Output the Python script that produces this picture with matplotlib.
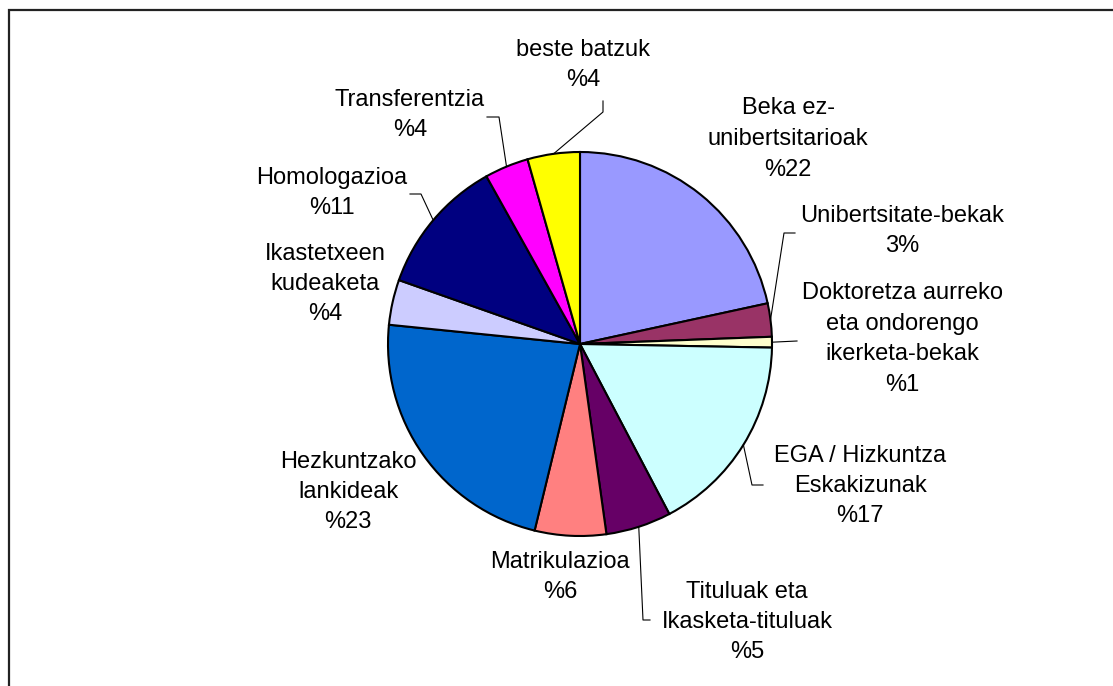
import numpy as np
import matplotlib.pyplot as plt
from matplotlib.patches import Rectangle

plt.rcParams['font.family'] = ['Liberation Sans', 'DejaVu Sans']

W, H = 1113, 686

# Data (clockwise from 12 o'clock), shares read from the slice boundaries
labels = ["Beka ez-\nunibertsitarioak\n%22",
          "Unibertsitate-bekak\n3%",
          "Doktoretza aurreko\neta ondorengo\nikerketa-bekak\n%1",
          "EGA / Hizkuntza\nEskakizunak\n%17",
          "Tituluak eta\nIkasketa-tituluak\n%5",
          "Matrikulazioa\n%6",
          "Hezkuntzako\nlankideak\n%23",
          "Ikastetxeen\nkudeaketa\n%4",
          "Homologazioa\n%11",
          "Transferentzia\n%4",
          "beste batzuk\n%4"]
values = [21.6, 2.8, 0.9, 17.0, 5.5, 6.0, 22.8, 3.8, 11.5, 3.7, 4.4]
colors = ["#9999FF", "#993366", "#FFFFCC", "#CCFFFF", "#660066", "#FF8080",
          "#0066CC", "#CCCCFF", "#000080", "#FF00FF", "#FFFF00"]

# label centres in pixel coords (x, y from top)
label_pos = [(788, 139), (902, 231), (902, 339), (860, 486), (747, 622),
             (560, 577), (348, 492), (325, 284), (332, 193), (410, 115),
             (583, 65)]
# leader elbows (pixel coords), None = no leader
leaders = [None,
           [(784, 233), (795, 233)],
           [(797, 341)],
           [(752, 485), (763, 485)],
           [(643, 620), (650, 620)],
           None, None, None,
           [(421, 194), (410, 194)],
           [(499, 117), (487, 117)],
           [(603, 112), (603, 101)]]

fig = plt.figure(figsize=(W / 100, H / 100), dpi=100)
ax = fig.add_axes([0, 0, 1, 1])

cx, cy, r = 580, H - 344, 192
wedges, _ = ax.pie(values, colors=colors, startangle=90, counterclock=False,
                   center=(cx, cy), radius=r, frame=True,
                   wedgeprops=dict(edgecolor='black', linewidth=1.5))
ax.set_xlim(0, W)
ax.set_ylim(0, H)
ax.set_aspect('equal')
ax.axis('off')

for w, lab, (lx, ly), ld in zip(wedges, labels, label_pos, leaders):
    ax.text(lx, H - ly, lab, ha='center', va='center', fontsize=17,
            linespacing=1.5, color='black')
    if ld is not None:
        th = np.deg2rad((w.theta1 + w.theta2) / 2)
        xs = [cx + r * np.cos(th)] + [p[0] for p in ld]
        ys = [cy + r * np.sin(th)] + [H - p[1] for p in ld]
        ax.plot(xs, ys, color='black', linewidth=0.8)

# outer chart border (left and top visible)
ax.add_patch(Rectangle((8.5, -20), W + 50, H - 9.5 + 20, fill=False,
                       edgecolor='#222222', linewidth=1.6, clip_on=False))

fig.savefig("out.png", dpi=100)
